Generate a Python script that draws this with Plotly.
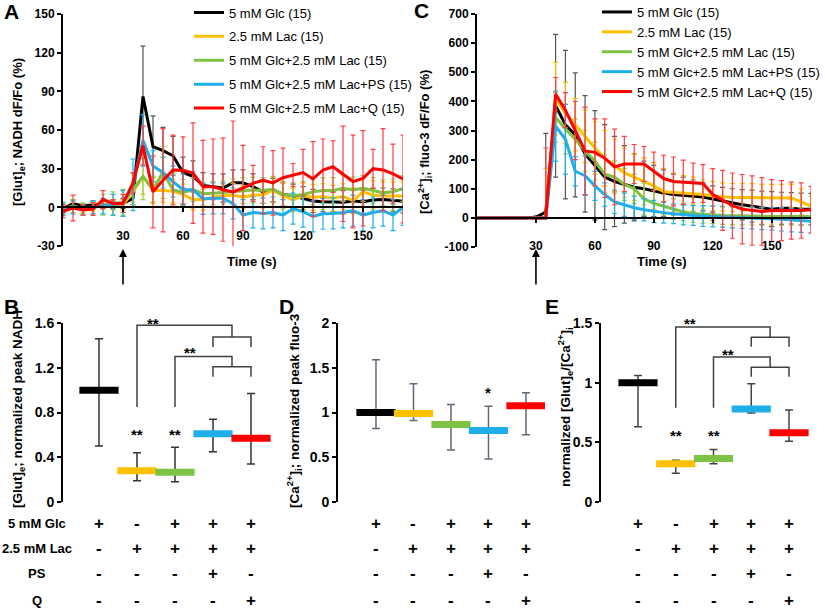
import plotly.graph_objects as go

W, H = 825, 611
FONT = "Arial, 'Liberation Sans', sans-serif"


def px(x):
    return x / W


def py(y):
    return 1 - y / H


# ---------------- data ----------------
time_s = [0, 5, 10, 15, 20, 25, 30, 35, 40, 45, 50, 55, 60, 65, 70, 75, 80, 85,
          90, 95, 100, 105, 110, 115, 120, 125, 130, 135, 140, 145, 150, 155, 160, 165, 170]

series_names = ["5 mM Glc (15)", "2.5 mM Lac (15)", "5 mM Glc+2.5 mM Lac (15)",
                "5 mM Glc+2.5 mM Lac+PS (15)", "5 mM Glc+2.5 mM Lac+Q (15)"]
line_colors = ["#000000", "#FFC000", "#7DC243", "#1FAEEA", "#FF0000"]
err_colors = ["#555555", "#FFC000", "#92D050", "#1FAEEA", "#FF4040"]

# Panel A: [Glut]e; NADH dF/Fo (%)
nadh_glc = [-1, 3, 1, 2, 2, 2, 3, 7, 86, 47, 44, 40, 27, 24, 17, 16, 15, 19, 19, 16, 12, 13.5,
            10, 9, 7, 5, 4.4, 4.4, 4, 5, 4.4, 5.7, 6, 5.4, 4.7]
nadh_lac = [-2, 0, -1, 0, 2, 2, 2, 12, 24, 13, 13, 12.4, 10, 6, 6, 7.8, 9, 9.6, 7.8, 9.6, 9.6,
            13.5, 8.8, 5.7, 8.8, 7.8, 8.3, 7, 8.3, 5.2, 12, 9.6, 8.8, 8.8, 8.8]
nadh_glc_lac = [-1, 1, -1, 0, 2, 3, 4, 14, 24, 14, 27, 13.7, 11.6, 13.7, 10.6, 11, 11.6, 12, 13,
                13.5, 13, 14, 10, 9, 10, 12, 13, 13, 14.7, 13.4, 14.7, 13, 11.4, 12, 14.7]
nadh_ps = [-1, 0, -2, 0, 1, 2, 3, 17.5, 52, 32, 27, 20, 13.7, 13.7, 6.5, 7, 7, 3, -6, -4, -4.7,
           -4, -6, -1, -3.4, -7, -5, -4.7, -4, -2.6, -6, -4, -2.6, -6, 0]
nadh_q = [-3, -0.5, -2, -1.3, 6, 3, 3, 19, 48, 12, 21, 29, 28.7, 26.6, 16, 16, 13.7, 12, 15,
          18.6, 21, 19, 23, 25, 27, 22, 29, 31.5, 26, 20, 22.5, 30, 29, 26, 22]

nadh_glc_err = [3, 3, 2, 3, 3, 3, 4, 5, 39, 24, 18, 15, 12, 12, 10, 10, 11, 10, 10, 10, 9, 9, 9,
                9, 9, 9, 8, 8, 9, 9, 9, 9, 9, 9, 9]
nadh_lac_err = [4, 4, 3, 3, 3, 4, 4, 8, 14, 10, 9, 9, 8, 8, 8, 8, 9, 9, 9, 9, 10, 10, 10, 9, 10,
                10, 10, 10, 10, 10, 11, 11, 11, 11, 11]
nadh_glc_lac_err = [4, 5, 4, 5, 8, 9, 10, 12, 18, 10, 20, 13, 10, 9, 9, 9, 9, 10, 10, 10, 10, 10,
                    10, 10, 10, 10, 10, 10, 10, 10, 10, 10, 10, 10, 10]
nadh_ps_err = [5, 5, 4, 5, 6, 8, 10, 20, 20, 12, 12, 12, 12, 14, 12, 12, 12, 12, 12, 12, 12, 12,
               12, 12, 12, 12, 12, 12, 12, 12, 12, 12, 12, 12, 14]
nadh_q_err = [5, 10, 4, 5, 7, 3, 7, 8, 15, 28, 40, 27, 26, 39, 36, 37, 40, 55, 33, 14, 26, 25, 23,
              9, 18, 29, 24, 20, 37, 36, 37, 15, 32, 23, 34]

# Panel C: [Ca2+]i; fluo-3 dF/Fo (%)
ca_glc = [0, 0, 0, 0, 0, 0, 2, 20, 385, 320, 285, 220, 180, 140, 125, 115, 105, 100, 92, 85, 80,
          78, 75, 72, 65, 58, 50, 45, 40, 35, 30, 33, 33, 30, 30]
ca_lac = [0, 0, 0, 0, 0, 0, 0, 0, 410, 360, 320, 280, 240, 205, 180, 155, 140, 125, 110, 90, 88,
          85, 82, 80, 75, 72, 70, 70, 70, 68, 68, 68, 68, 55, 40]
ca_glc_lac = [0, 0, 0, 0, 0, 0, 0, 0, 345, 305, 270, 230, 195, 150, 140, 115, 100, 65, 50, 40, 30,
              20, 15, 12, 10, 8, 7, 6, 5, 5, 5, 5, 5, 5, 5]
ca_ps = [0, 0, 0, 0, 0, 0, 0, 0, 315, 270, 160, 145, 110, 80, 55, 45, 35, 28, 22, 18, 14, 10, 8,
         6, 5, 4, 3, 2, 0, -2, -3, -5, -8, -10, -12]
ca_q = [0, 0, 0, 0, 0, 0, 0, 0, 425, 370, 300, 230, 225, 205, 175, 185, 185, 185, 160, 135, 125,
        122, 120, 118, 80, 60, 42, 30, 25, 22, 25, 25, 25, 25, 28]

ca_glc_err = [0, 0, 0, 0, 0, 0, 5, 270, 245, 255, 213, 200, 188, 180, 155, 133, 115, 95, 88, 80,
              70, 62, 55, 48, 45, 47, 50, 52, 55, 57, 60, 55, 54, 55, 54]
ca_lac_err = [0, 0, 0, 0, 0, 0, 0, 170, 125, 105, 90, 90, 90, 95, 90, 85, 80, 80, 80, 80, 67, 60,
              58, 50, 50, 48, 48, 48, 48, 47, 47, 47, 47, 45, 35]
ca_glc_lac_err = [0, 0, 0, 0, 0, 0, 0, 0, 85, 85, 70, 70, 65, 65, 55, 55, 50, 55, 50, 40, 35, 30,
                  30, 30, 30, 30, 30, 30, 30, 30, 30, 30, 30, 30, 30]
ca_ps_err = [0, 0, 0, 0, 0, 0, 0, 0, 120, 120, 50, 68, 50, 40, 40, 40, 40, 38, 38, 36, 34, 34,
             34, 35, 36, 36, 37, 38, 38, 38, 39, 40, 40, 40, 40]
ca_q_err = [0, 0, 0, 0, 0, 0, 0, 240, 57, 60, 100, 150, 115, 135, 130, 95, 67, 60, 66, 80, 84,
            76, 68, 65, 89, 103, 112, 119, 119, 116, 106, 103, 98, 95, 80]

nadh_series = [nadh_glc, nadh_lac, nadh_glc_lac, nadh_ps, nadh_q]
nadh_errs = [nadh_glc_err, nadh_lac_err, nadh_glc_lac_err, nadh_ps_err, nadh_q_err]
ca_series = [ca_glc, ca_lac, ca_glc_lac, ca_ps, ca_q]
ca_errs = [ca_glc_err, ca_lac_err, ca_glc_lac_err, ca_ps_err, ca_q_err]

# Panels B, D, E: normalized peaks (centre, upper, lower)
conditions = [0, 1, 2, 3, 4]
peak_nadh = [1.0, 0.28, 0.265, 0.61, 0.57]
peak_nadh_hi = [1.46, 0.44, 0.49, 0.74, 0.97]
peak_nadh_lo = [0.50, 0.19, 0.18, 0.45, 0.34]

peak_fluo = [1.0, 0.99, 0.865, 0.80, 1.075]
peak_fluo_hi = [1.59, 1.32, 1.09, 1.07, 1.22]
peak_fluo_lo = [0.82, 0.91, 0.58, 0.48, 0.75]

ratio = [1.0, 0.32, 0.365, 0.78, 0.58]
ratio_hi = [1.06, 0.35, 0.44, 0.99, 0.77]
ratio_lo = [0.63, 0.24, 0.32, 0.745, 0.51]

row_labels = ["5 mM Glc", "2.5 mM Lac", "PS", "Q"]
row_signs = [["+", "-", "+", "+", "+"],
             ["-", "+", "+", "+", "+"],
             ["-", "-", "-", "+", "-"],
             ["-", "-", "-", "-", "+"]]

# ---------------- layout geometry ----------------
dom = {
    "A": dict(x=[px(63), px(403)], y=[py(246), py(14)], r=[-30, 150]),
    "C": dict(x=[px(477), px(811)], y=[py(247), py(14)], r=[-100, 700]),
    "B": dict(x=[px(63), px(272)], y=[py(502), py(323)], r=[0, 1.6], xr=[-0.947, 4.553]),
    "D": dict(x=[px(338), px(545)], y=[py(502), py(323)], r=[0, 2], xr=[-1.013, 4.507]),
    "E": dict(x=[px(601), px(812)], y=[py(502), py(323)], r=[0, 1.5], xr=[-0.980, 4.609]),
}

fig = go.Figure()

# time courses
for i in range(5):
    fig.add_trace(go.Scatter(
        x=time_s, y=nadh_series[i], mode="lines", name=series_names[i],
        line=dict(color=line_colors[i], width=3),
        error_y=dict(type="data", array=nadh_errs[i], color=err_colors[i], thickness=1.2, width=2.5),
        xaxis="x", yaxis="y", legend="legend", legendgroup=f"a{i}"))
for i in range(5):
    minus = [min(e, max(v, 0)) if t == 35 else e for t, v, e in zip(time_s, ca_series[i], ca_errs[i])]
    fig.add_trace(go.Scatter(
        x=time_s, y=ca_series[i], mode="lines", name=series_names[i],
        line=dict(color=line_colors[i], width=3),
        error_y=dict(type="data", symmetric=False, array=ca_errs[i], arrayminus=minus,
                     color=err_colors[i], thickness=1.2, width=2.5),
        xaxis="x2", yaxis="y2", legend="legend2", legendgroup=f"c{i}"))


def peak_trace(vals, hi, lo, xa, ya, ecol):
    return go.Scatter(
        x=conditions, y=vals, mode="markers", showlegend=False,
        marker=dict(symbol="line-ew", size=28, color=line_colors,
                    line=dict(color=line_colors, width=7)),
        error_y=dict(type="data", symmetric=False,
                     array=[h - v for h, v in zip(hi, vals)],
                     arrayminus=[v - l for v, l in zip(vals, lo)],
                     color=ecol, thickness=1.5, width=4),
        xaxis=xa, yaxis=ya)


fig.add_trace(peak_trace(peak_nadh, peak_nadh_hi, peak_nadh_lo, "x3", "y3", "#333333"))
fig.add_trace(peak_trace(peak_fluo, peak_fluo_hi, peak_fluo_lo, "x4", "y4", "#5E6A78"))
fig.add_trace(peak_trace(ratio, ratio_hi, ratio_lo, "x5", "y5", "#444444"))

tickfont_top = dict(family=FONT, size=12, color="black", weight="bold")
tickfont_bot = dict(family=FONT, size=14, color="black", weight="bold")


def yax(d, tickvals, ticktext, anchor, tf):
    return dict(domain=d["y"], range=d["r"], tickvals=tickvals, ticktext=ticktext,
                showline=True, linecolor="black", linewidth=2, ticks="outside", ticklen=4,
                tickwidth=2, tickcolor="black", showgrid=False, zeroline=False,
                tickfont=tf, anchor=anchor, fixedrange=True, automargin=False)


def yax_in(d, tickvals, anchor, over):
    return dict(range=d["r"], tickvals=tickvals, overlaying=over, anchor=anchor,
                showline=False, ticks="inside", ticklen=4, tickwidth=2, tickcolor="black",
                showticklabels=False, showgrid=False, zeroline=False, fixedrange=True,
                automargin=False)


def xtime(d):
    r0, r1 = d["r"]
    pos = d["y"][0] + (0 - r0) / (r1 - r0) * (d["y"][1] - d["y"][0])
    return dict(domain=d["x"], range=[0, 170], anchor="free", position=pos,
                showline=True, linecolor="black", linewidth=2, ticks="outside", ticklen=4,
                tickwidth=2, tickcolor="black", tickvals=[30, 60, 90, 120, 150],
                tickfont=tickfont_top, ticklabelstandoff=13, showgrid=False, zeroline=False,
                fixedrange=True, automargin=False)


def xcat(d):
    return dict(domain=d["x"], range=d["xr"], visible=False, fixedrange=True, automargin=False)


A_t = [-30, 0, 30, 60, 90, 120, 150]
C_t = [-100, 0, 100, 200, 300, 400, 500, 600, 700]
B_t = [0, 0.4, 0.8, 1.2, 1.6]
D_t = [0, 0.5, 1, 1.5, 2]
E_t = [0, 0.5, 1, 1.5]

fig.update_layout(
    width=W, height=H, margin=dict(l=0, r=0, t=0, b=0, pad=0, autoexpand=False),
    paper_bgcolor="white", plot_bgcolor="rgba(0,0,0,0)",
    font=dict(family=FONT, color="black"),
    xaxis=xtime(dom["A"]), yaxis=yax(dom["A"], A_t, [str(v) for v in A_t], "x", tickfont_top),
    xaxis2=xtime(dom["C"]), yaxis2=yax(dom["C"], C_t, [str(v) for v in C_t], "x2", tickfont_top),
    xaxis3=xcat(dom["B"]), yaxis3=yax(dom["B"], B_t, ["0", "0.4", "0.8", "1.2", "1.6"], "x3", tickfont_bot),
    xaxis4=xcat(dom["D"]), yaxis4=yax(dom["D"], D_t, ["0", "0.5", "1", "1.5", "2"], "x4", tickfont_bot),
    xaxis5=xcat(dom["E"]), yaxis5=yax(dom["E"], E_t, ["0", "0.5", "1", "1.5"], "x5", tickfont_bot),
    yaxis6=yax_in(dom["A"], A_t, "x", "y"),
    yaxis7=yax_in(dom["C"], C_t, "x2", "y2"),
    yaxis8=yax_in(dom["B"], B_t, "x3", "y3"),
    yaxis9=yax_in(dom["D"], D_t, "x4", "y4"),
    yaxis10=yax_in(dom["E"], E_t, "x5", "y5"),
    legend=dict(x=px(189), y=py(-2.5), xanchor="left", yanchor="top", bgcolor="rgba(0,0,0,0)",
                font=dict(family=FONT, size=13, color="black"), traceorder="grouped",
                tracegroupgap=4, itemwidth=30),
    legend2=dict(x=px(597), y=py(-3), xanchor="left", yanchor="top", bgcolor="rgba(0,0,0,0)",
                 font=dict(family=FONT, size=13, color="black"), traceorder="grouped",
                 tracegroupgap=0, itemwidth=30),
    showlegend=True,
)

ann = []
bold = lambda s: dict(family=FONT, size=s, color="black", weight="bold")

# panel letters
for letter, (lx, ly) in {"A": (11, 12), "C": (422, 11), "B": (11, 306), "D": (286, 306), "E": (552, 306)}.items():
    ann.append(dict(text=letter, x=px(lx), y=py(ly), xref="paper", yref="paper", showarrow=False,
                    font=bold(21), xanchor="center", yanchor="middle"))

# y-axis titles
ytitles = [
    ("[Glut]<sub>e</sub>; NADH dF/Fo (%)", 18, 132, 13),
    ("[Ca<sup>2+</sup>]<sub>i</sub>; fluo-3 dF/Fo (%)", 425, 142, 13),
    ("[Glut]<sub>e</sub>; normalized peak NADH", 18, 409, 13.5),
    ("[Ca<sup>2+</sup>]<sub>i</sub>; normalized peak fluo-3", 294, 411, 13.5),
    ("normalized [Glut]<sub>e</sub>/[Ca<sup>2+</sup>]<sub>i</sub>", 565, 407, 13.5),
]
for t, tx, ty, s in ytitles:
    ann.append(dict(text=t, x=px(tx), y=py(ty), xref="paper", yref="paper", showarrow=False,
                    textangle=-90, font=bold(s), xanchor="center", yanchor="middle"))

# x titles
for tx in (252, 662):
    ann.append(dict(text="Time (s)", x=px(tx), y=py(261), xref="paper", yref="paper",
                    showarrow=False, font=bold(13), xanchor="center", yanchor="middle"))

# arrows at 30 s
for xr in ("x", "x2"):
    ann.append(dict(text="", x=30, y=py(249), xref=xr, yref="paper", showarrow=True,
                    ax=0, ay=37, axref="pixel", ayref="pixel", arrowhead=2, arrowsize=1,
                    arrowwidth=1.6, arrowcolor="black"))

# +/- table
rows_y = [523, 548, 573, 600]
for xr in ("x3", "x4", "x5"):
    for r, signs in enumerate(row_signs):
        for i, s in enumerate(signs):
            ann.append(dict(text=s, x=conditions[i], y=py(rows_y[r]), xref=xr, yref="paper",
                            showarrow=False, font=bold(17), xanchor="center", yanchor="middle"))
for r, lab in enumerate(row_labels):
    ann.append(dict(text=lab, x=px(37), y=py(rows_y[r]), xref="paper", yref="paper",
                    showarrow=False, font=bold(13), xanchor="center", yanchor="middle"))

# significance marks
stars = [
    ("x3", "y3", 1, 0.60, "**"), ("x3", "y3", 2, 0.60, "**"),
    ("x3", "y3", 1.42, 1.60, "**"), ("x3", "y3", 2.39, 1.34, "**"),
    ("x4", "y4", 3, 1.22, "*"),
    ("x5", "y5", 1, 0.56, "**"), ("x5", "y5", 2, 0.56, "**"),
    ("x5", "y5", 1.38, 1.50, "**"), ("x5", "y5", 2.38, 1.24, "**"),
]
for xr, yr, sx, sy, s in stars:
    ann.append(dict(text=s, x=sx, y=sy, xref=xr, yref=yr, showarrow=False, font=bold(15),
                    xanchor="center", yanchor="middle"))

fig.update_layout(annotations=ann)

# comparison brackets: (start group, base, top, mid, tip)
brackets_B = [(1, 0.85, 1.58, 1.475, 1.385), (2, 0.85, 1.30, 1.21, 1.12)]
brackets_E = [(1, 0.79, 1.466, 1.38, 1.30), (2, 0.79, 1.215, 1.13, 1.05)]
shapes = []
for xr, yr, brs in (("x3", "y3", brackets_B), ("x5", "y5", brackets_E)):
    for g, base, top, mid, tip in brs:
        join = (conditions[3] + conditions[4]) / 2
        shapes.append(dict(type="path", xref=xr, yref=yr,
                           path=f"M {g},{base} L {g},{top} L {join},{top} L {join},{mid}",
                           line=dict(color="#404040", width=1.5)))
        shapes.append(dict(type="path", xref=xr, yref=yr,
                           path=f"M {conditions[3]},{tip} L {conditions[3]},{mid} L {conditions[4]},{mid} L {conditions[4]},{tip}",
                           line=dict(color="#404040", width=1.5)))
fig.update_layout(shapes=shapes)

fig.write_html("out.html", config={"displayModeBar": False},
               post_script="document.body.style.margin='0px';document.body.style.overflow='hidden';")
